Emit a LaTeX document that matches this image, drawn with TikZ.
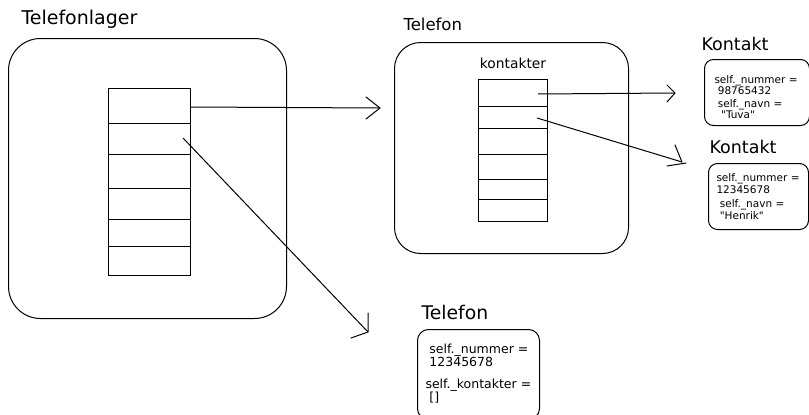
\documentclass[tikz,border=0pt]{standalone}
\usepackage{fontspec}
\setmainfont{DejaVu Sans}[Ligatures=TeXOff]
\newcommand{\qt}[1]{"#1"}
\begin{document}
\begin{tikzpicture}[x=1pt,y=-1pt,line width=1pt,
  title/.style={anchor=west,inner sep=0pt,font=\fontsize{#1}{#1}\selectfont},
  obj/.style={draw,rounded corners=#1,inner sep=0pt,anchor=north west},
  arr/.style={draw,inner sep=0pt,anchor=north west},
  attr/.style={anchor=north west,align=left,inner sep=0pt},
  head/.style={line cap=round,line join=round}]
\useasboundingbox (0,0) rectangle (809,415);

% --- Telefonlager: the phone register with its array
\node[title=19] (tlTitle) at (21,19) {Telefonlager};
\node[obj=32,minimum width=278pt,minimum height=280pt] (tl) at (8,38) {};
\node[arr,minimum width=82pt,minimum height=187pt] (tlArr) at (108,88) {};
\foreach \y in {123,154,188,219,246} \draw (108,\y) -- (190,\y);

% --- Telefon holding a list of contacts
\node[title=16.5] (tfTitle) at (403,24) {Telefon};
\node[obj=26,minimum width=234pt,minimum height=211pt] (tf) at (394,42) {};
\node[font=\fontsize{13.8}{14}\selectfont,inner sep=0pt] (kontakter) at (513,63) {kontakter};
\node[arr,minimum width=69pt,minimum height=142pt] (tfArr) at (478,79) {};
\foreach \y in {106,128,154,179,199} \draw (478,\y) -- (547,\y);

% --- Kontakt objects
\node[title=17.5] (k1Title) at (701,44) {Kontakt};
\node[obj=9,minimum width=105pt,minimum height=66pt] (k1) at (704,59) {};
\node[attr,font=\fontsize{10.5}{9.5}\selectfont] (k1Text) at (714,75)
  {self.\_nummer =\\\ 98765432\\[3pt]\ self.\_navn =\\\ \ \qt{Tuva}};

\node[title=17.5] (k2Title) at (709,147) {Kontakt};
\node[obj=9,minimum width=100pt,minimum height=66pt] (k2) at (708,163) {};
\node[attr,font=\fontsize{10.5}{12}\selectfont] (k2Text) at (716,173)
  {self.\_nummer =\\12345678\\[2pt]\ self.\_navn =\\\ \qt{Henrik}};

% --- a fresh Telefon with no contacts yet
\node[title=18.8] (t2Title) at (421,312) {Telefon};
\node[obj=11,minimum width=122pt,minimum height=90pt] (t2) at (417,329) {};
\node[attr,font=\fontsize{12.5}{13}\selectfont] (t2Text) at (425,343)
  {\ self.\_nummer =\\\ 12345678\\[9pt]self.\_kontakter =\\\ []};

% --- references
\coordinate (a1s) at (190,107);  \coordinate (a1e) at (380,108);
\coordinate (a2s) at (183,138);  \coordinate (a2e) at (368,332);
\coordinate (a3s) at (538,94);   \coordinate (a3e) at (675,93);
\coordinate (a4s) at (537,118);  \coordinate (a4e) at (682,162);

\draw (a1s) -- (a1e);
\draw[head] (366,97) -- (a1e) -- (366,119);

\draw (a2s) -- (a2e);
\draw[head] (368,313) -- (a2e) -- (351,338);

\draw (a3s) -- (a3e);
\draw[head] (667,85) -- (a3e) -- (667,102);

\draw (a4s) -- (a4e);
\draw[head] (675,145) -- (a4e);
\draw[head] (667,166) -- (686,163);
\end{tikzpicture}
\end{document}
